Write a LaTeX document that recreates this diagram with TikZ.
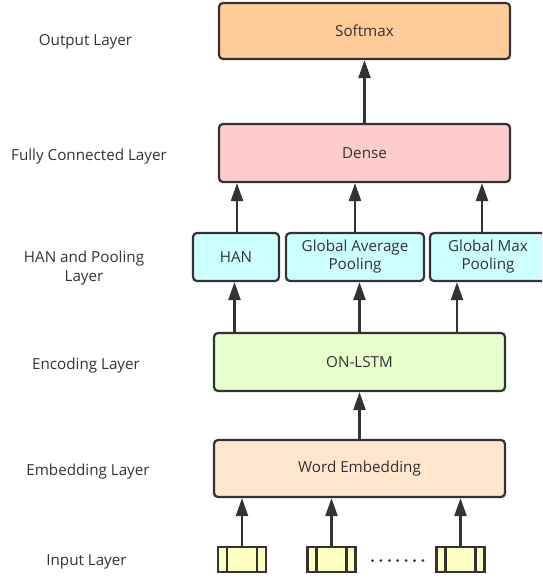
\documentclass[tikz,border=0pt]{standalone}
\usepackage{fontspec}
\setmainfont{Open Sans}
\usetikzlibrary{arrows.meta}
\definecolor{ink}{HTML}{333333}
\definecolor{softC}{HTML}{FFCC99}
\definecolor{denseC}{HTML}{FFCCCC}
\definecolor{poolC}{HTML}{CCFFFF}
\definecolor{lstmC}{HTML}{E6FFCC}
\definecolor{embC}{HTML}{FFE6CC}
\definecolor{cellC}{HTML}{FFFFC4}
\tikzset{
  box/.style={draw=ink, line width=2.2pt, rounded corners=4pt, text=ink,
    inner sep=0pt, align=center, font=\fontsize{15.2}{18}\selectfont},
  cell/.style={draw=ink, line width=2.2pt, fill=cellC, inner sep=0pt,
    minimum width=48pt, minimum height=25pt,
    path picture={
      \draw[ink, line width=2.2pt]
        ([xshift=9pt]path picture bounding box.north west) --
        ([xshift=9pt]path picture bounding box.south west);
      \draw[ink, line width=2.2pt]
        ([xshift=-9pt]path picture bounding box.north east) --
        ([xshift=-9pt]path picture bounding box.south east);}},
  layer/.style={text=ink, align=center, font=\fontsize{15.2}{19}\selectfont},
  arr/.style={draw=ink, line width=2.4pt, -{Triangle[length=18pt,width=12pt]}}
}
\begin{document}
\begin{tikzpicture}[x=1pt,y=-1pt]
\useasboundingbox (0,0) rectangle (542,579);
\clip (0,0) rectangle (542,579);

% layer names
\node[layer] (lOut) at (85.5,42) {Output Layer};
\node[layer] (lFc) at (89,157) {Fully Connected Layer};
\node[layer] (lHan) at (84,268) {HAN and Pooling\\Layer};
\node[layer] (lEnc) at (86,366) {Encoding Layer};
\node[layer] (lEmb) at (88,472) {Embedding Layer};
\node[layer] (lIn) at (86.5,562) {Input Layer};

% network blocks
\node[box, fill=softC, minimum width=291pt, minimum height=56pt] (soft) at (364.5,31) {Softmax};
\node[box, fill=denseC, minimum width=291pt, minimum height=58pt] (dense) at (364.5,153) {Dense};
\node[box, fill=poolC, minimum width=86pt, minimum height=48pt] (han) at (236,257) {HAN};
\node[box, fill=poolC, minimum width=138pt, minimum height=48pt] (gap) at (355,257) {Global Average\\Pooling};
\node[box, fill=poolC, minimum width=116pt, minimum height=48pt] (gmp) at (488,257) {Global Max\\Pooling};
\node[box, fill=lstmC, minimum width=291pt, minimum height=58pt] (lstm) at (359.5,362) {ON-LSTM};
\node[box, fill=embC, minimum width=291pt, minimum height=57pt] (emb) at (359.5,468.5) {Word Embedding};

% input tokens
\node[cell] (in1) at (242,559.5) {};
\node[cell] (in2) at (331.5,559.5) {};
\node[cell] (in3) at (460.5,559.5) {};
\foreach \i in {0,...,6} \fill[ink] (372.5+8.4*\i,560.5) circle (1.5pt);

% connections
\foreach \n in {in1,in2,in3} \draw[arr] (\n.north) -- (\n.north |- emb.south);
\draw[arr] (emb.north) -- (lstm.south);
\draw[arr] ([xshift=-1.5pt]han.south |- lstm.north) -- ([xshift=-1.5pt]han.south);
\draw[arr] (lstm.north) -- (lstm.north |- gap.south);
\draw[arr] ([xshift=-31pt]gmp.south |- lstm.north) -- ([xshift=-31pt]gmp.south);
\draw[arr] ([xshift=1pt]han.north) -- ([xshift=1pt]han.north |- dense.south);
\draw[arr] (gap.north) -- (gap.north |- dense.south);
\draw[arr] ([xshift=-6pt]gmp.north) -- ([xshift=-6pt]gmp.north |- dense.south);
\draw[arr] (dense.north) -- (soft.south);
\end{tikzpicture}
\end{document}
